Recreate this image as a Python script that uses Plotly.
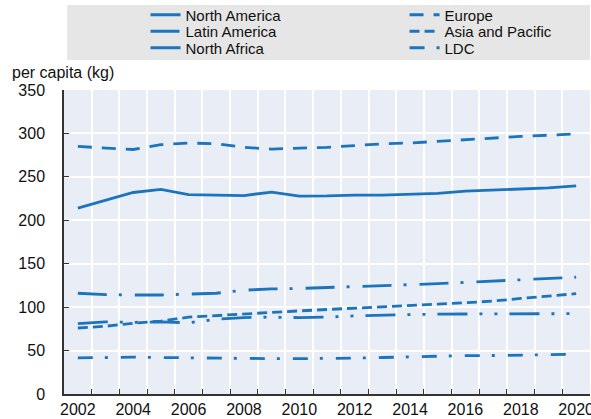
import plotly.graph_objects as go

years = list(range(2002, 2021))

north_america = [214, 223, 232, 235.5, 229.5, 229, 228.5, 232.5, 227.8, 228, 229, 229, 230, 231, 233.5, 234.6, 236, 237.3, 239.6]
europe = [285, 283, 281.5, 287, 289, 288, 284, 282, 283, 284, 286, 288, 289, 291, 293, 295, 296.5, 298, 299.5]
latin_america = [116, 114.5, 114, 114, 115, 116, 119.5, 121, 121.5, 122.5, 123.5, 124.5, 126, 127, 128.5, 130, 131.5, 133, 134.5]
asia_pacific = [76, 78, 81.5, 84, 88.5, 90.5, 92.5, 94.3, 95.7, 97.3, 99, 100.8, 102.3, 103.5, 105, 107, 110, 113, 115.5]
north_africa = [81, 83, 82.5, 83, 82, 86, 88, 88.5, 88, 88.5, 90, 91, 91.5, 92, 92, 92, 92, 92, 92.5]
ldc = [41.5, 42, 42.5, 42, 41.5, 41, 40.8, 40.7, 40.7, 40.8, 41.3, 42, 42.8, 43.5, 44.2, 44.3, 44.5, 45, 45.7]

y_ticks = [0, 50, 100, 150, 200, 250, 300, 350]
x_label_years = list(range(2002, 2021, 2))

BLUE = "#1c74bd"
FONT = "Liberation Sans, Arial, sans-serif"
TXT = "#111111"

# (name, values, dash, legend row)
series = [
    ("North America", north_america, "solid", "legend"),
    ("Europe", europe, "14px,10px", "legend"),
    ("Latin America", latin_america, "29px,12px,3px,13px", "legend2"),
    ("Asia and Pacific", asia_pacific, "10px,5px", "legend2"),
    ("North Africa", north_africa, "30px,12px,3px,12px,3px,12px", "legend3"),
    ("LDC", ldc, "15px,12px,3px,13px", "legend3"),
]

fig = go.Figure()
for name, vals, dash, leg in series:
    fig.add_trace(go.Scatter(x=years, y=vals, name=name, mode="lines", legend=leg,
                             line=dict(color=BLUE, width=2.8, dash=dash)))

PLOT_TOP, PLOT_BOTTOM = 90, 394
def py(px):
    return (PLOT_BOTTOM - px) / (PLOT_BOTTOM - PLOT_TOP)

def leg(row_px):
    return dict(orientation="h", x=0.155, y=py(row_px), xanchor="left", yanchor="middle",
                bgcolor="rgba(0,0,0,0)", entrywidth=0.4924, entrywidthmode="fraction",
                font=dict(size=15, color=TXT), tracegroupgap=0)

fig.update_layout(
    width=591, height=419,
    margin=dict(l=64, r=1, t=PLOT_TOP, b=419 - PLOT_BOTTOM, autoexpand=False),
    paper_bgcolor="white",
    plot_bgcolor="#e9eef6",
    font=dict(family=FONT, size=16, color=TXT),
    showlegend=True,
    legend=leg(15),
    legend2=leg(31.5),
    legend3=leg(48),
    shapes=[dict(type="rect", xref="paper", yref="paper", x0=0.006, x1=1.0,
                 y0=py(60), y1=py(5), fillcolor="#e6e6e6", line=dict(width=0), layer="below")],
    annotations=[dict(text="per capita (kg)", xref="paper", yref="paper", x=-0.103, y=py(73),
                      xanchor="left", yanchor="middle", showarrow=False,
                      font=dict(size=16, color=TXT))],
)

fig.update_xaxes(
    range=[2001.5, 2020.5],
    tickmode="array", tickvals=x_label_years, ticktext=[str(v) for v in x_label_years],
    ticks="", showgrid=False, zeroline=False,
    showline=True, linecolor="#333333", linewidth=1.5,
    ticklabelstandoff=0, ticklabeloverflow="allow",
    tickfont=dict(size=16),
    minor=dict(tickmode="array", tickvals=[y + 0.5 for y in years[:-1]], ticks="inside",
               ticklen=5, tickcolor="#333333", showgrid=True, gridcolor="white", gridwidth=1.5),
)
fig.update_yaxes(
    range=[0, 350], tickmode="array", tickvals=y_ticks,
    ticks="inside", ticklen=5, tickcolor="#333333",
    showgrid=True, gridcolor="white", gridwidth=1.5, zeroline=False,
    showline=True, linecolor="#333333", linewidth=1.5,
    ticklabelstandoff=14, tickfont=dict(size=16),
)

fig.write_html("out.html", config={"displayModeBar": False},
               post_script="document.body.style.margin='0';")
